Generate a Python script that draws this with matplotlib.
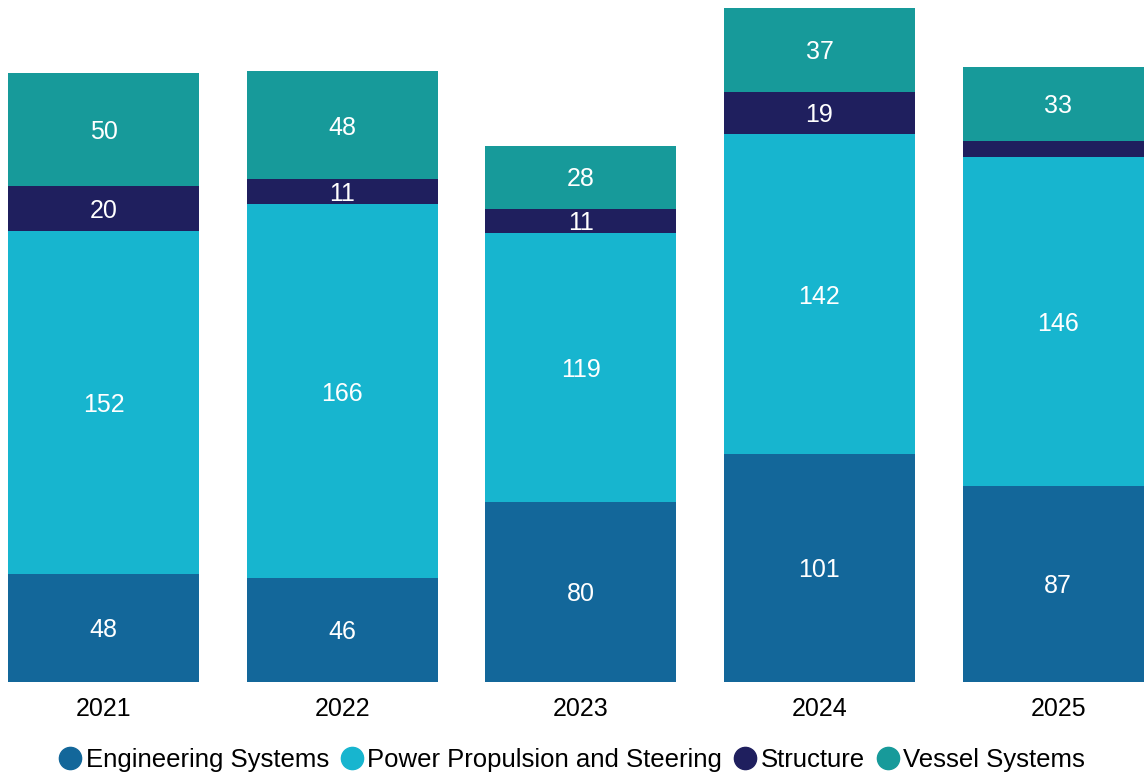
import matplotlib
matplotlib.use("Agg")
import matplotlib.pyplot as plt
from matplotlib.lines import Line2D
import numpy as np

plt.rcParams['font.family'] = ['Liberation Sans', 'DejaVu Sans']

years = ["2021", "2022", "2023", "2024", "2025"]
engineering = [48, 46, 80, 101, 87]
propulsion = [152, 166, 119, 142, 146]
structure = [20, 11, 11, 19, 7]
vessel = [50, 48, 28, 37, 33]

series = [
    ("Engineering Systems", engineering, "#13679a"),
    ("Power Propulsion and Steering", propulsion, "#17b5cf"),
    ("Structure", structure, "#1f1f5e"),
    ("Vessel Systems", vessel, "#179a9a"),
]

fig = plt.figure(figsize=(11.44, 7.78), dpi=100)
ax = fig.add_axes([0, 0.1234, 1, 0.8766])

x = np.arange(len(years))
bottom = np.zeros(len(years))
for name, vals, color in series:
    vals = np.array(vals, dtype=float)
    ax.bar(x, vals, width=0.8, bottom=bottom, color=color, linewidth=0)
    # small segments stay unlabelled
    for xi, b, v in zip(x, bottom, vals):
        if v >= 10:
            ax.text(xi, b + v / 2 - 1, f"{int(v)}", ha="center", va="center",
                    color="white", fontsize=18)
    bottom += vals

ax.set_xlim(-0.434, 4.36)
ax.set_ylim(0, 302.6)
ax.set_xticks(x)
ax.set_xticklabels(years, fontsize=18)
ax.tick_params(axis="x", length=0, pad=11)
ax.set_yticks([])
for s in ax.spines.values():
    s.set_visible(False)

handles = [Line2D([], [], marker="o", linestyle="", markersize=16,
                  markerfacecolor=c, markeredgecolor=c, label=n)
           for n, _, c in series]
fig.legend(handles=handles, loc="center", bbox_to_anchor=(0.5, 0.023),
           ncol=4, frameon=False, fontsize=18.5, handletextpad=0.15,
           columnspacing=0.45, handlelength=0.9)

fig.savefig("out.png", dpi=100)
